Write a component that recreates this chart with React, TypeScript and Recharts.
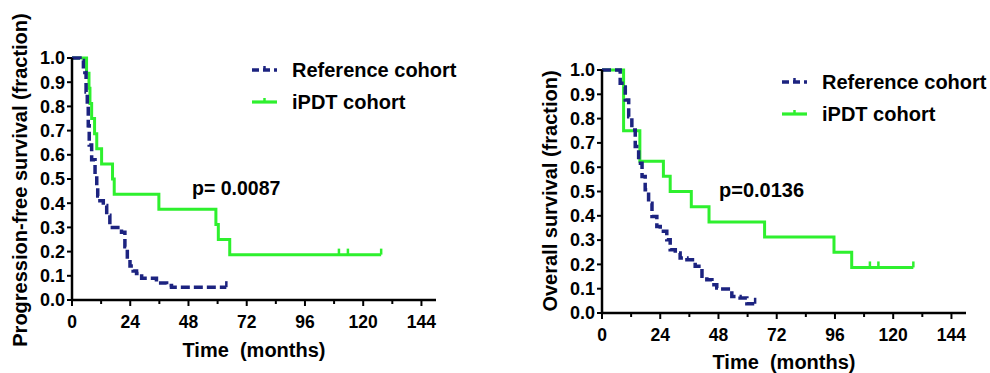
import { LineChart, Line, XAxis, YAxis } from 'recharts';

// Progression-free survival (left panel)
const pfsRefMonths = [0, 3.3, 4.7, 5.3, 5.8, 6.3, 6.7, 7.1, 8.1, 9.5, 10.2, 10.6, 11.5, 12.9, 14.3, 15.6, 20.4, 21.8, 22.8, 23.9, 25.2, 26.6, 28.7, 34.8, 39, 41, 63.6];
const pfsRefSurv = [1, 0.99, 0.95, 0.94, 0.86, 0.8, 0.72, 0.64, 0.58, 0.52, 0.47, 0.43, 0.41, 0.39, 0.35, 0.3, 0.28, 0.22, 0.17, 0.14, 0.12, 0.11, 0.09, 0.07, 0.06, 0.053, 0.053];
const pfsRefCensored = [63.6];

const pfsIpdtMonths = [0, 6.0, 7.0, 7.4, 8.1, 9.3, 10.2, 12.2, 16.7, 17.4, 35.8, 59.3, 60.3, 65, 110, 113.7, 127.4];
const pfsIpdtSurv = [1, 0.9375, 0.875, 0.8125, 0.75, 0.6875, 0.625, 0.5625, 0.5, 0.4375, 0.375, 0.3125, 0.25, 0.1875, 0.1875, 0.1875, 0.1875];
const pfsIpdtCensored = [110, 113.7, 127.4];

// Overall survival (right panel)
const osRefMonths = [0, 7.5, 8.2, 9.6, 11, 12.3, 13.7, 15.1, 16.5, 17.8, 19.2, 20.6, 22.6, 24, 26.7, 28.1, 30.2, 32.2, 35, 38.4, 41.2, 43.2, 45.3, 47.3, 48.7, 53.5, 56.9, 59.7, 63.1];
const osRefSurv = [1, 0.945, 0.93, 0.877, 0.808, 0.753, 0.685, 0.616, 0.562, 0.507, 0.452, 0.397, 0.356, 0.336, 0.301, 0.26, 0.247, 0.226, 0.219, 0.192, 0.151, 0.137, 0.116, 0.103, 0.099, 0.068, 0.062, 0.038, 0.038];
const osRefCensored = [63.1];

const osIpdtMonths = [0, 8.9, 15.6, 25.3, 28.1, 36.8, 44.1, 67, 95.6, 102.9, 110.4, 113.9, 128.3];
const osIpdtSurv = [1, 0.75, 0.625, 0.5625, 0.5, 0.4375, 0.375, 0.3125, 0.25, 0.1875, 0.1875, 0.1875, 0.1875];
const osIpdtCensored = [110.4, 113.9, 128.3];

const xTicks = [0, 12, 24, 36, 48, 60, 72, 84, 96, 108, 120, 132, 144];
const yTicks = [0, 0.1, 0.2, 0.3, 0.4, 0.5, 0.6, 0.7, 0.8, 0.9, 1.0];
const seriesNames = ['Reference cohort', 'iPDT cohort'];

const NAVY = '#1c2380';
const GREEN = '#2ef02e';
const FONT = "'Liberation Sans', Arial, sans-serif";
const DASH = '9 4';

const toPoints = (months: number[], surv: number[], censored: number[]) =>
  months.map((t, i) => ({ t, s: surv[i], c: censored.includes(t) }));

// small vertical tick for censored observations
const censorDot = (color: string) => (props: any) => {
  const { cx, cy, payload, index } = props;
  if (!payload.c) return <g key={index} />;
  return <line key={index} x1={cx} x2={cx} y1={cy - 6} y2={cy} stroke={color} strokeWidth={2.5} />;
};

const XTick = ({ x, y, payload }: any) => {
  const major = payload.value % 24 === 0;
  return (
    <g>
      <line x1={x} x2={x} y1={y} y2={y + (major ? 6 : 4)} stroke="#000" strokeWidth={2} />
      {major && (
        <text x={x} y={y + 28} textAnchor="middle" fontSize={17.5} fontWeight="bold" fill="#000" fontFamily={FONT}>
          {payload.value}
        </text>
      )}
    </g>
  );
};

interface PanelProps {
  left: number;
  width: number;
  margin: { top: number; right: number; bottom: number; left: number };
  refData: { t: number; s: number; c: boolean }[];
  ipdtData: { t: number; s: number; c: boolean }[];
}

function Panel({ left, width, margin, refData, ipdtData }: PanelProps) {
  return (
    <div style={{ position: 'absolute', left, top: 0 }}>
      <LineChart width={width} height={373} margin={margin}>
        <XAxis
          type="number"
          dataKey="t"
          domain={[0, 150]}
          ticks={xTicks}
          interval={0}
          height={30}
          tickSize={0}
          tickMargin={0}
          tickLine={false}
          tick={<XTick />}
          axisLine={{ stroke: '#000', strokeWidth: 2.5 }}
          allowDataOverflow
        />
        <YAxis
          type="number"
          domain={[0, 1]}
          ticks={yTicks}
          interval={0}
          width={40}
          tickSize={5}
          tickMargin={2}
          tickFormatter={(v: number) => v.toFixed(1)}
          tick={{ fontSize: 18, fontWeight: 'bold', fill: '#000', fontFamily: FONT }}
          tickLine={{ stroke: '#000', strokeWidth: 2 }}
          axisLine={{ stroke: '#000', strokeWidth: 2.5 }}
        />
        <Line
          data={ipdtData}
          dataKey="s"
          name={seriesNames[1]}
          type="stepAfter"
          stroke={GREEN}
          strokeWidth={3}
          dot={censorDot(GREEN)}
          isAnimationActive={false}
        />
        <Line
          data={refData}
          dataKey="s"
          name={seriesNames[0]}
          type="stepAfter"
          stroke={NAVY}
          strokeWidth={3.5}
          strokeDasharray={DASH}
          dot={censorDot(NAVY)}
          isAnimationActive={false}
        />
      </LineChart>
    </div>
  );
}

function LegendBlock({ x, y }: { x: number; y: number }) {
  return (
    <g fontFamily={FONT} fontWeight="bold" fontSize={20} fill="#000">
      <line x1={x} x2={x + 25} y1={y} y2={y} stroke={NAVY} strokeWidth={3.5} strokeDasharray="7 4" />
      <line x1={x + 12.5} x2={x + 12.5} y1={y - 4} y2={y} stroke={NAVY} strokeWidth={2.5} />
      <text x={x + 40} y={y + 7}>{seriesNames[0]}</text>
      <line x1={x} x2={x + 25} y1={y + 32} y2={y + 32} stroke={GREEN} strokeWidth={3.2} />
      <line x1={x + 12.5} x2={x + 12.5} y1={y + 28} y2={y + 32} stroke={GREEN} strokeWidth={2.5} />
      <text x={x + 40} y={y + 39}>{seriesNames[1]}</text>
    </g>
  );
}

export default function App() {
  const pfsRef = toPoints(pfsRefMonths, pfsRefSurv, pfsRefCensored);
  const pfsIpdt = toPoints(pfsIpdtMonths, pfsIpdtSurv, pfsIpdtCensored);
  const osRef = toPoints(osRefMonths, osRefSurv, osRefCensored);
  const osIpdt = toPoints(osIpdtMonths, osIpdtSurv, osIpdtCensored);

  return (
    <div style={{ position: 'absolute', left: 0, top: 0, width: 990, height: 373, background: '#fff', fontFamily: FONT }}>
      <Panel left={0} width={480} margin={{ top: 58, right: 44, bottom: 43, left: 32 }} refData={pfsRef} ipdtData={pfsIpdt} />
      <Panel left={520} width={470} margin={{ top: 70, right: 24, bottom: 30, left: 42 }} refData={osRef} ipdtData={osIpdt} />

      <svg width={990} height={373} style={{ position: 'absolute', left: 0, top: 0, pointerEvents: 'none' }}>
        <g fontFamily={FONT} fontWeight="bold" fontSize={20} fill="#000">
          <text transform="translate(27,180) rotate(-90)" textAnchor="middle">Progression-free survival (fraction)</text>
          <text x={254} y={357} textAnchor="middle" xmlSpace="preserve">Time  (months)</text>
          <text x={192} y={195} fontSize={19.5} xmlSpace="preserve">p= 0.0087</text>

          <text transform="translate(557,191) rotate(-90)" textAnchor="middle">Overall survival (fraction)</text>
          <text x={784} y={369} textAnchor="middle" xmlSpace="preserve">Time  (months)</text>
          <text x={719} y={197} fontSize={20}>p=0.0136</text>
        </g>
        <LegendBlock x={252} y={70} />
        <LegendBlock x={782} y={82} />
      </svg>
    </div>
  );
}
